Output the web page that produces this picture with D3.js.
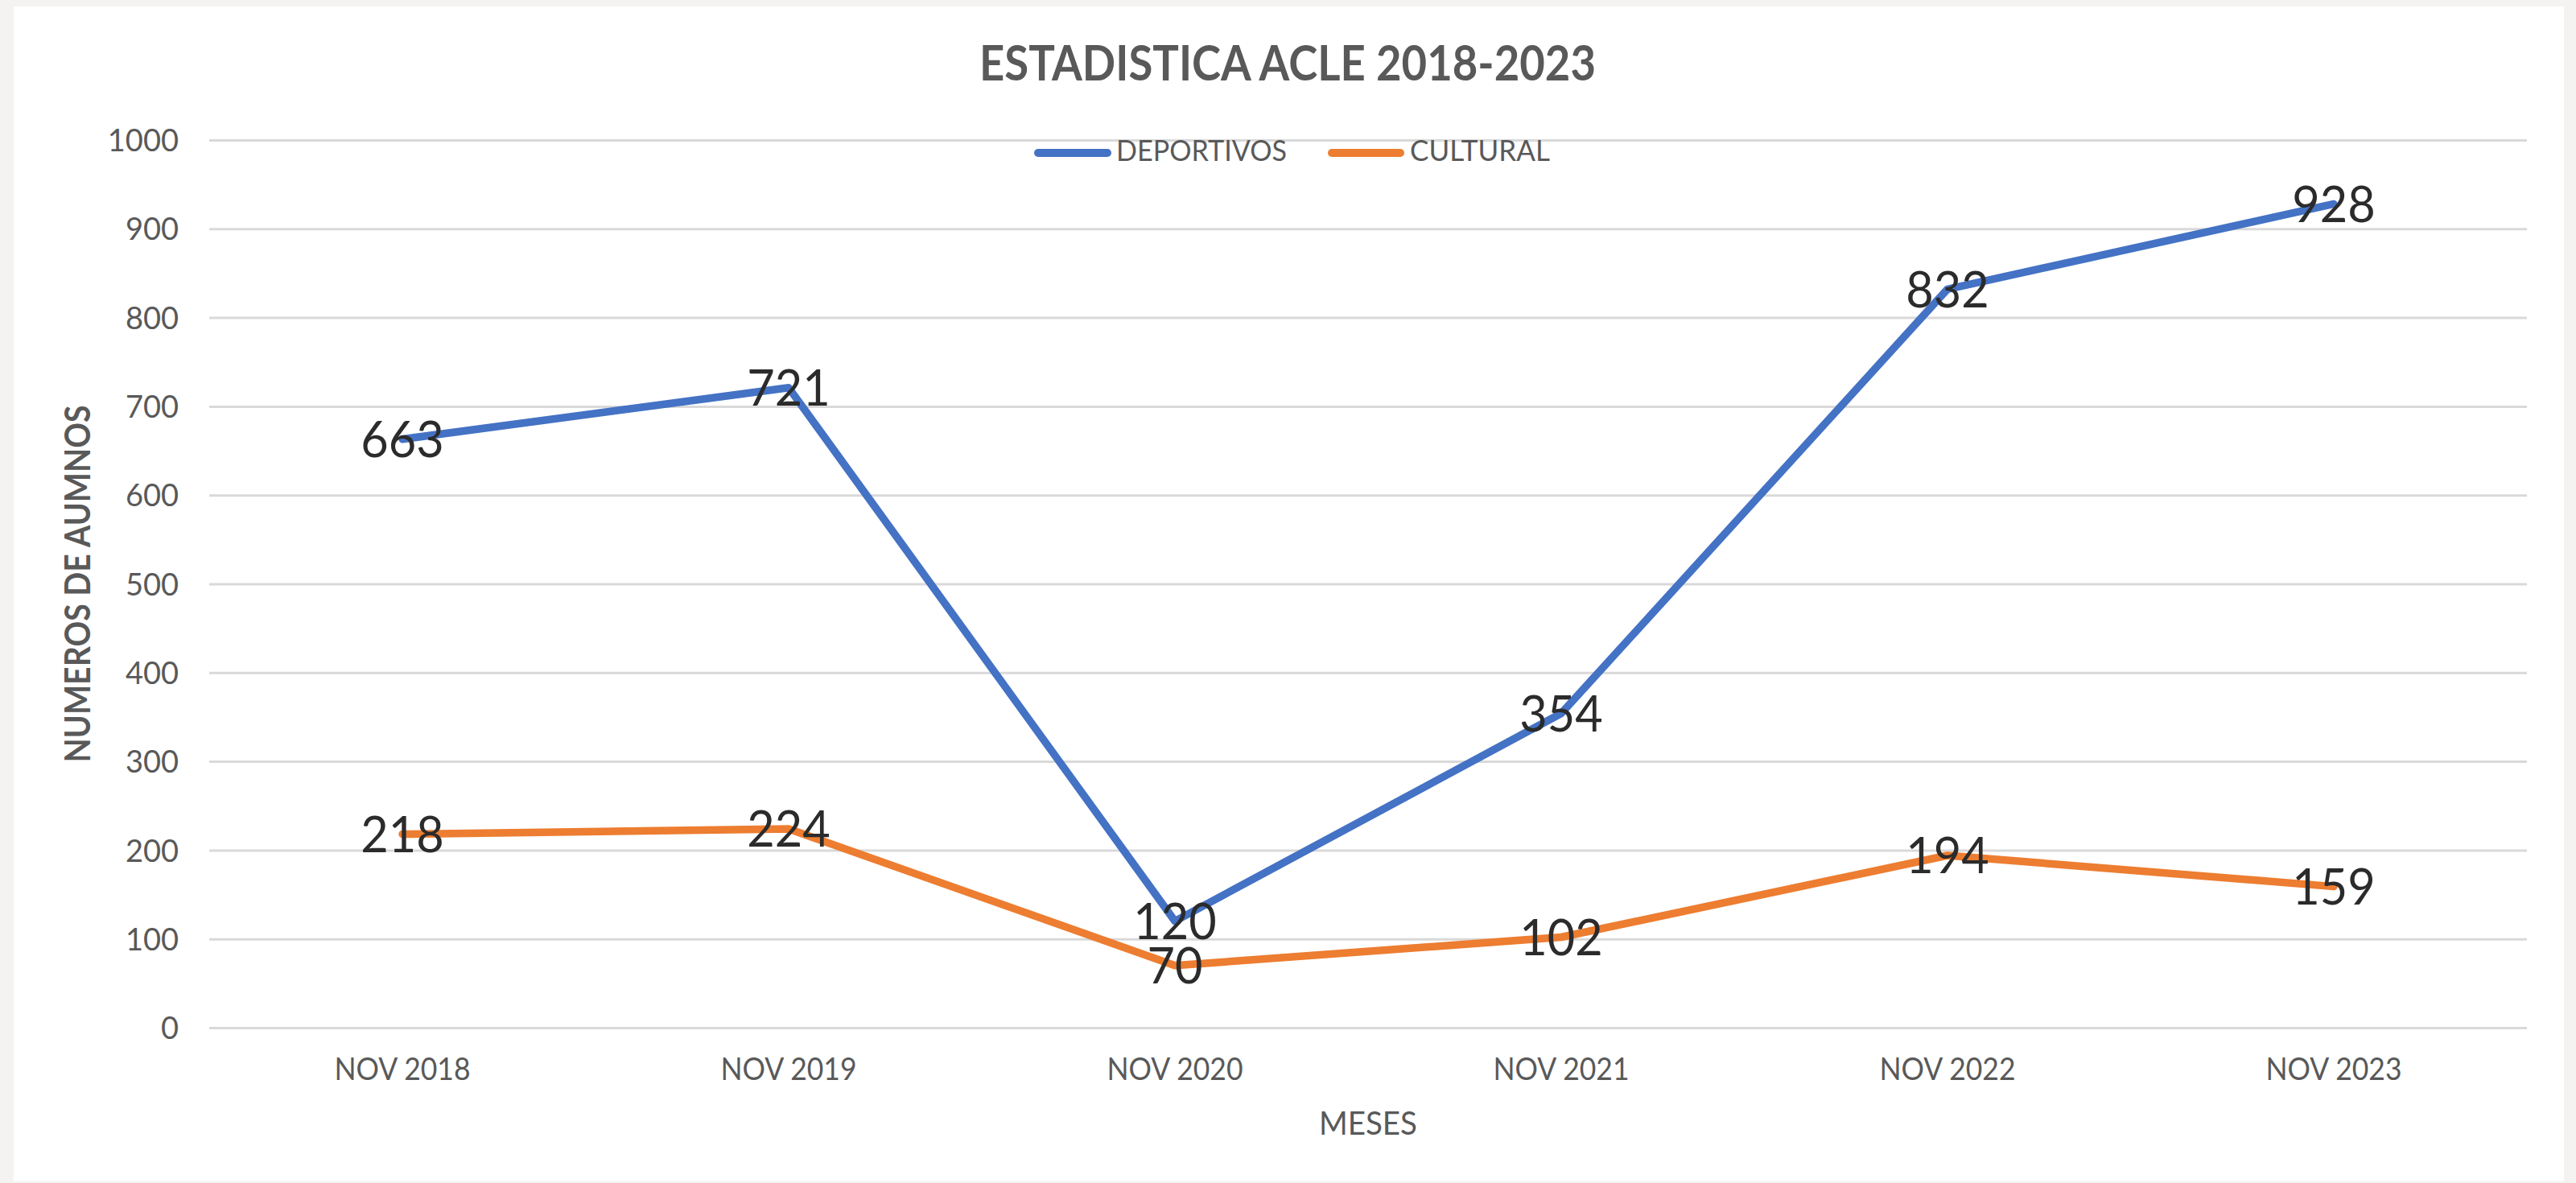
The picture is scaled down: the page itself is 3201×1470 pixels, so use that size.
<!DOCTYPE html>
<html>
<head>
<meta charset="utf-8">
<script src="https://cdn.jsdelivr.net/npm/d3@7"></script>
<style>
  html, body { margin: 0; padding: 0; background: #f4f3f1; }
  svg { display: block; }
  text { font-family: Lato, "Open Sans", sans-serif; }
</style>
</head>
<body>
<svg id="chart" width="3201" height="1470"></svg>
<script>
const categories = ["NOV 2018", "NOV 2019", "NOV 2020", "NOV 2021", "NOV 2022", "NOV 2023"];
const deportivos = [663, 721, 120, 354, 832, 928];
const cultural = [218, 224, 70, 102, 194, 159];
const yTicks = [0, 100, 200, 300, 400, 500, 600, 700, 800, 900, 1000];
const seriesNames = ["DEPORTIVOS", "CULTURAL"];
const seriesColors = ["#4472C4", "#ED7D31"];
const titleText = "ESTADISTICA ACLE 2018-2023";
const xTitle = "MESES";
const yTitle = "NUMEROS DE AUMNOS";

const series = [
  { name: seriesNames[0], color: seriesColors[0], values: deportivos },
  { name: seriesNames[1], color: seriesColors[1], values: cultural }
];

const svg = d3.select("#chart");

// white chart panel
svg.append("rect").attr("x", 17).attr("y", 8).attr("width", 3169).attr("height", 1460).attr("fill", "#ffffff");

const plot = { left: 260, right: 3140, top: 174, bottom: 1277 };

const x = d3.scaleBand().domain(categories).range([plot.left, plot.right]);
const xc = d => x(d) + x.bandwidth() / 2;
const y = d3.scaleLinear().domain([0, 1000]).range([plot.bottom, plot.top]);

// gridlines
svg.append("g")
  .attr("transform", `translate(${plot.left},0)`)
  .call(d3.axisLeft(y).tickValues(yTicks).tickSize(-(plot.right - plot.left)).tickFormat(""))
  .call(g => g.select(".domain").remove())
  .call(g => g.selectAll(".tick line").attr("stroke", "#d9d9d9").attr("stroke-width", 3));

// y tick labels
svg.append("g")
  .attr("transform", `translate(222,0)`)
  .call(d3.axisLeft(y).tickValues(yTicks).tickSize(0).tickPadding(0).tickFormat(d3.format("d")))
  .call(g => g.select(".domain").remove())
  .call(g => g.selectAll(".tick text")
    .attr("fill", "#595959")
    .style("font-family", "Lato, 'Open Sans', sans-serif")
    .style("font-size", "38px")
    .attr("dy", "0.36em"));

// x tick labels
svg.append("g")
  .attr("transform", `translate(0,1342)`)
  .call(d3.axisBottom(x).tickSize(0).tickPadding(0))
  .call(g => g.select(".domain").remove())
  .call(g => g.selectAll(".tick text")
    .attr("fill", "#595959")
    .attr("dy", 0)
    .attr("y", 0)
    .style("font-family", "Lato, 'Open Sans', sans-serif")
    .style("font-size", "38px")
    .attr("textLength", 169)
    .attr("lengthAdjust", "spacingAndGlyphs"));

// lines (straight segments)
const line = d3.line()
  .x((d, i) => xc(categories[i]))
  .y(d => y(d))
  .curve(d3.curveLinear);

svg.append("g").selectAll("path")
  .data(series)
  .join("path")
  .attr("d", s => line(s.values))
  .attr("fill", "none")
  .attr("stroke", s => s.color)
  .attr("stroke-width", 9.5)
  .attr("stroke-linecap", "round")
  .attr("stroke-linejoin", "round");

// data labels (centered on points)
series.forEach(s => {
  svg.append("g").selectAll("text")
    .data(s.values)
    .join("text")
    .attr("x", (d, i) => xc(categories[i]))
    .attr("y", d => y(d))
    .attr("dy", "0.36em")
    .attr("text-anchor", "middle")
    .attr("fill", "#2b2b2b")
    .style("font-size", "62px")
    .attr("textLength", d => String(d).length * 34.5)
    .attr("lengthAdjust", "spacingAndGlyphs")
    .text(d => d);
});

// title
svg.append("text")
  .attr("x", 1600).attr("y", 100)
  .attr("text-anchor", "middle")
  .attr("fill", "#595959")
  .style("font-size", "62px")
  .style("font-weight", "bold")
  .attr("textLength", 766)
  .attr("lengthAdjust", "spacingAndGlyphs")
  .text(titleText);

// legend
const legendItems = [
  { name: seriesNames[0], color: seriesColors[0], x0: 1285, x1: 1381, tx: 1387, tw: 212 },
  { name: seriesNames[1], color: seriesColors[1], x0: 1650, x1: 1745, tx: 1752, tw: 174 }
];
const lg = svg.append("g");
legendItems.forEach(it => {
  lg.append("line")
    .attr("x1", it.x0 + 5).attr("x2", it.x1 - 5)
    .attr("y1", 190).attr("y2", 190)
    .attr("stroke", it.color).attr("stroke-width", 10)
    .attr("stroke-linecap", "round");
  lg.append("text")
    .attr("x", it.tx).attr("y", 200)
    .attr("fill", "#595959")
    .style("font-size", "37px")
    .attr("textLength", it.tw)
    .attr("lengthAdjust", "spacingAndGlyphs")
    .text(it.name);
});

// x axis title
svg.append("text")
  .attr("x", (plot.left + plot.right) / 2).attr("y", 1410)
  .attr("text-anchor", "middle")
  .attr("fill", "#595959")
  .style("font-size", "41px")
  .attr("textLength", 122)
  .attr("lengthAdjust", "spacingAndGlyphs")
  .text(xTitle);

// y axis title
svg.append("text")
  .attr("transform", `translate(112,${(plot.top + plot.bottom) / 2}) rotate(-90)`)
  .attr("text-anchor", "middle")
  .attr("fill", "#595959")
  .style("font-size", "44px")
  .style("font-weight", "bold")
  .attr("textLength", 444)
  .attr("lengthAdjust", "spacingAndGlyphs")
  .text(yTitle);
</script>
</body>
</html>
